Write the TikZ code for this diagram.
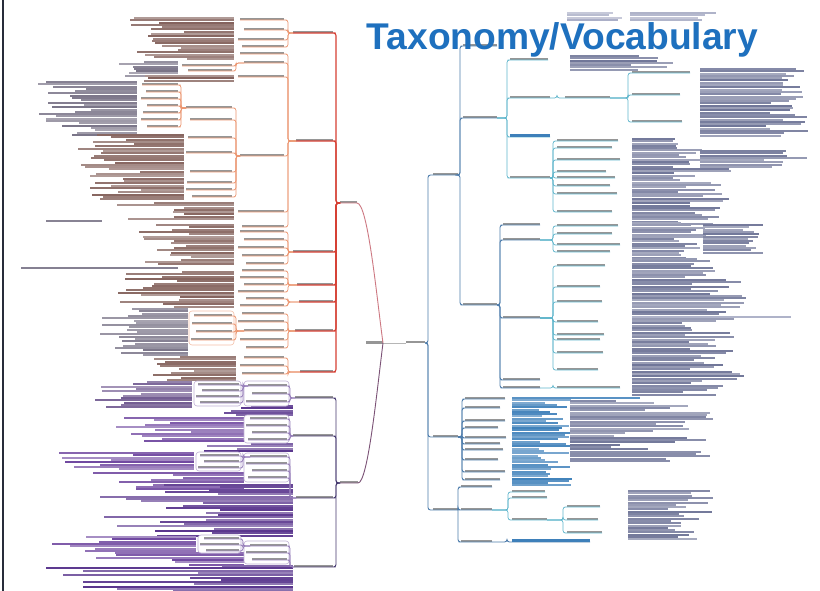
\documentclass[tikz,border=0pt]{standalone}
\usepackage{fontspec}
\newfontfamily\headfont{Liberation Sans}

\definecolor{labgray}{RGB}{150,150,150}
\definecolor{redline}{RGB}{214,64,52}
\definecolor{orgline}{RGB}{236,150,112}
\definecolor{pinkline}{RGB}{205,120,130}
\definecolor{purline}{RGB}{68,56,110}
\definecolor{lpurline}{RGB}{150,125,185}
\definecolor{blueline}{RGB}{78,125,172}
\definecolor{cyanline}{RGB}{96,182,204}
\definecolor{brownrow}{RGB}{132,98,92}
\definecolor{grayrow}{RGB}{118,112,132}
\definecolor{mixrow}{RGB}{115,92,146}
\definecolor{purprow}{RGB}{112,72,160}
\definecolor{dpurprow}{RGB}{88,52,140}
\definecolor{bluerow}{RGB}{112,118,152}
\definecolor{paleblue}{RGB}{170,174,198}
\definecolor{steelrow}{RGB}{62,128,186}
\definecolor{titleblue}{RGB}{30,112,190}
\definecolor{framecol}{RGB}{40,44,58}

% stack of text lines, right aligned at #1 (left half of the map)
\newcommand\rowsL[6]{%
  \pgfmathtruncatemacro\rnum{(#3-#2)/2.3}%
  \foreach \k in {0,...,\rnum}{%
    \pgfmathsetmacro\rlen{#4+rnd*(#5-#4)}%
    \pgfmathtruncatemacro\rsh{62+38*rnd}%
    \fill[#6!\rsh!white] ({#1-\rlen},{#2+\k*2.3}) rectangle (#1,{#2+\k*2.3+2.0});
  }}
% stack of text lines, left aligned at #1 (right half of the map)
\newcommand\rowsR[6]{%
  \pgfmathtruncatemacro\rnum{(#3-#2)/2.3}%
  \foreach \k in {0,...,\rnum}{%
    \pgfmathsetmacro\rlen{#4+rnd*(#5-#4)}%
    \pgfmathtruncatemacro\rsh{62+38*rnd}%
    \fill[#6!\rsh!white] (#1,{#2+\k*2.3}) rectangle ({#1+\rlen},{#2+\k*2.3+2.0});
  }}
% children growing to the left: parent, bracket x, line style, right end, list name/y/left end
\newcommand\Lkids[5]{%
  \foreach \nm/\yy/\xa in {#5}{%
    \pgfmathsetmacro\bw{#4-\xa}%
    \node[lbl, minimum width=\bw pt] (\nm) at (\xa,\yy) {};
    \draw[#3] (\nm.south west) -- (\nm.south east) -- ++({#2-#4},0) |- (#1.south west);
  }}
% children growing to the right: parent, bracket x, line style, left end, list name/y/right end
\newcommand\Rkids[5]{%
  \foreach \nm/\yy/\xb in {#5}{%
    \pgfmathsetmacro\bw{\xb-#4}%
    \node[lbl, minimum width=\bw pt] (\nm) at (#4,\yy) {};
    \draw[#3] (\nm.south east) -- (\nm.south west) -- ++({#2-#4},0) |- (#1.south east);
  }}

\begin{document}
\begin{tikzpicture}[x=1pt,y=-1pt,
  lbl/.style={rectangle, draw=none, fill=labgray, inner sep=0pt, outer sep=0pt,
              minimum height=1.7pt, anchor=south west},
  redc/.style={draw=redline, line width=1.1pt, rounded corners=2.5pt},
  orgc/.style={draw=orgline, line width=0.7pt, rounded corners=2.5pt},
  purc/.style={draw=purline, line width=0.9pt, rounded corners=2.5pt},
  lpurc/.style={draw=lpurline, line width=0.7pt, rounded corners=2.5pt},
  bluec/.style={draw=blueline, line width=0.9pt, rounded corners=2.5pt},
  cyanc/.style={draw=cyanline, line width=0.7pt, rounded corners=2.5pt},
  wbox/.style={draw=lpurline!60, fill=white, line width=0.6pt, rounded corners=3pt},
  obox/.style={draw=orgline!60, fill=white, line width=0.6pt, rounded corners=3pt}]
\pgfmathsetseed{20}
\fill[white] (0,0) rectangle (820,591);
\useasboundingbox (0,0) rectangle (820,591);

% ---------- leaf text, left half (brown / grey upper part)
\rowsL{234}{17}{60}{45}{105}{brownrow}
\rowsL{178}{61}{76}{30}{60}{grayrow}
\rowsL{234}{75}{80}{80}{92}{brownrow}
\rowsL{137}{81}{134}{40}{100}{grayrow}
\rowsL{184}{134}{200}{40}{108}{brownrow}
\rowsL{234}{202}{219}{40}{120}{brownrow}
\rowsL{102}{220}{221}{55}{56}{grayrow}
\rowsL{234}{224}{264}{40}{95}{brownrow}
\rowsL{178}{267}{268}{156}{157}{grayrow}
\rowsL{234}{271}{307}{50}{118}{brownrow}
\rowsL{188}{308}{354}{40}{90}{grayrow}
\rowsL{236}{356}{379}{40}{90}{brownrow}
% ---------- leaf text, left half (purple lower part)
\rowsL{192}{381}{407}{40}{100}{mixrow}
\rowsL{293}{405}{416}{40}{70}{dpurprow}
\rowsL{244}{417}{442}{50}{140}{purprow}
\rowsL{293}{443}{452}{40}{90}{dpurprow}
\rowsL{194}{452}{470}{50}{140}{purprow}
\rowsL{244}{472}{490}{60}{170}{purprow}
\rowsL{293}{484}{535}{60}{195}{dpurprow}
\rowsL{196}{536}{552}{40}{150}{purprow}
\rowsL{244}{552}{565}{50}{180}{purprow}
\rowsL{293}{565}{591}{60}{250}{dpurprow}

% ---------- leaf text, right half
\rowsR{567}{12}{20}{40}{55}{paleblue}
\rowsR{630}{12}{21}{60}{95}{paleblue}
\rowsR{570}{55}{70}{60}{120}{bluerow}
\rowsR{700}{68}{135}{60}{112}{bluerow}
\rowsR{632}{138}{225}{40}{100}{bluerow}
\rowsR{700}{150}{168}{60}{115}{bluerow}
\rowsR{632}{222}{260}{40}{80}{bluerow}
\rowsR{703}{224}{252}{40}{65}{bluerow}
\rowsR{632}{258}{395}{50}{115}{bluerow}
\rowsR{632}{316}{317}{158}{159}{paleblue}
\rowsR{512}{397}{485}{25}{60}{steelrow}
\rowsR{512}{397}{398}{128}{129}{steelrow}
\rowsR{570}{400}{462}{40}{150}{bluerow}
\rowsR{628}{490}{540}{40}{85}{bluerow}

% ---------- framed label groups
\draw[obox] (189,311) rectangle (234,345);
\draw[wbox] (194,381) rectangle (241,406);
\draw[wbox] (244,381) rectangle (289,406);
\draw[wbox] (244,415) rectangle (289,443);
\draw[wbox] (244,453) rectangle (289,482);
\draw[wbox] (196,452) rectangle (241,471);
\draw[wbox] (244,541) rectangle (289,564);
\draw[wbox] (198,535) rectangle (241,553);

% ---------- central topic and first branches
\node[lbl, minimum width=17pt] (root) at (366,343) {};
\node[lbl, minimum width=19pt] (rootR) at (406,343) {};
\node[lbl, minimum width=17pt] (T) at (340,203) {};
\node[lbl, minimum width=18pt] (P) at (340,483) {};
\draw[labgray, line width=0.6pt] (root.south west) -- (root.south east);
\draw[labgray!70, line width=0.6pt] (root.south east) -- (rootR.south west);
\draw[pinkline, line width=0.9pt] (T.south west) -- (T.south east)
  .. controls (368,203) and (377,300) .. (root.south east);
\draw[purline!60!pinkline, line width=0.9pt] (P.south west) -- (P.south east)
  .. controls (368,483) and (377,390) .. (root.south east);

% ---------- left, upper (red) branch
\Lkids{T}{336}{redc}{333}{R1/33/293,R2/141/296,R3/252/293,R4/285/297,R5/302/299,R6/331/295,R7/372/300}
\Lkids{R1}{288}{orgc}{284}{R1a/20/240,R1b/30/244,R1c/40/238,R1d/47/242}
\Lkids{R2}{288}{orgc}{284}{R2a/54/240,R2b/63/244,R2c/77/238,R2d/156/240,R2e/212/238,R2f/227/242}
\Lkids{R2b}{236}{orgc}{232}{R2b1/66/182,R2b2/71/188}
\Lkids{R2d}{236}{orgc}{232}{R2d1/108/186,R2d2/120/190,R2d3/138/188,R2d4/153/186,R2d5/172/190,R2d6/183/187,R2d7/190/186,R2d8/197/192}
\Lkids{R2d1}{181}{orgc}{178}{R2d1a/85/142,R2d1b/92/146,R2d1c/99/141,R2d1d/106/147,R2d1e/113/143,R2d1f/120/141,R2d1g/127/147}
\Lkids{R3}{288}{orgc}{284}{R3a/232/240,R3b/240/244,R3c/248/238,R3d/256/242,R3e/264/246}
\Lkids{R4}{288}{orgc}{284}{R4a/271/242,R4b/278/240,R4c/285/244,R4d/292/238}
\Lkids{R5}{288}{orgc}{284}{R5a/299/246,R5b/306/240}
\Lkids{R6}{288}{orgc}{284}{R6a/314/242,R6b/322/238,R6c/331/244,R6d/340/240,R6e/348/246}
\Lkids{R6c}{236}{orgc}{232}{R6c1/316/194,R6c2/324/192,R6c3/332/196,R6c4/340/191}
\Lkids{R7}{288}{orgc}{284}{R7a/358/244,R7b/366/240,R7c/374/242}

% ---------- left, lower (purple) branch
\Lkids{P}{336}{purc}{333}{Q1/398/295,Q2/436/293,Q3/498/296,Q4/567/294}
\Lkids{Q1}{290}{lpurc}{287}{Q1a/386/248,Q1b/394/252,Q1c/402/246}
\Lkids{Q1a}{243}{lpurc}{239}{Q1a1/385/198,Q1a2/391/202,Q1a3/397/196,Q1a4/403/200}
\Lkids{Q2}{290}{lpurc}{287}{Q2a/419/250,Q2b/426/246,Q2c/433/252,Q2d/440/248}
\Lkids{Q3}{290}{lpurc}{287}{Q3a/457/250,Q3b/464/246,Q3c/471/252,Q3d/478/248}
\Lkids{Q3a}{243}{lpurc}{239}{Q3a1/456/200,Q3a2/462/204,Q3a3/468/198}
\Lkids{Q4}{290}{lpurc}{287}{Q4a/546/250,Q4b/553/246,Q4c/560/252}
\Lkids{Q4a}{243}{lpurc}{239}{Q4a1/539/204,Q4a2/545/200,Q4a3/551/206}

% ---------- right (blue) half
\Rkids{rootR}{428}{bluec}{433}{A/175/458,B/437/458,C/510/458}
\Rkids{A}{460}{bluec}{463}{A0/46/497,A1/118/497,A2/305/497}
\Rkids{A1}{507}{cyanc}{510}{A1a/60/548,A1b/98/550,A1c/137/550,A1d/178/550}
\Rkids{A1b}{557}{cyanc}{565}{A1bx/98/610}
\Rkids{A1bx}{628}{cyanc}{632}{A1b1/73/690,A1b2/95/680,A1b3/122/682}
\Rkids{A1d}{553}{cyanc}{557}{A1d1/141/618,A1d2/148/612,A1d3/160/620,A1d4/172/606,A1d5/178/615,A1d6/186/610,A1d7/194/617,A1d8/212/612}
\Rkids{A2}{500}{bluec}{503}{A2a/225/540,A2b/240/540,A2c/318/540,A2d/380/540,A2e/388/540}
\Rkids{A2b}{553}{cyanc}{557}{A2b1/226/618,A2b2/234/612,A2b3/245/620,A2b4/252/610}
\Rkids{A2c}{553}{cyanc}{557}{A2c1/266/605,A2c2/287/600,A2c3/302/602,A2c4/322/598,A2c5/335/604,A2c6/340/600,A2c7/353/603,A2c8/370/598}
\Rkids{A2e}{553}{cyanc}{557}{A2e1/388/620}
\Rkids{B}{462}{bluec}{465}{B1/399/505,B2/408/500,B3/421/505,B4/428/498,B5/438/506,B6/444/500,B7/450/503,B8/460/498,B9/472/505,B10/480/500}
\Rkids{C}{458}{bluec}{461}{C1/487/492,C2/510/492,C3/542/492}
\Rkids{C2}{508}{cyanc}{512}{C2a/492/545,C2b/498/547,C2c/520/547}
\Rkids{C2c}{563}{cyanc}{567}{C2c1/507/600,C2c2/520/598,C2c3/533/602}
\Rkids{C3}{507}{bluec}{512}{C3a/542/590}
\node[lbl, fill=steelrow, minimum width=40pt, minimum height=2.6pt] (A1cb) at (A1c.south west) {};
\node[lbl, fill=steelrow, minimum width=78pt, minimum height=2.6pt] (C3ab) at (C3a.south west) {};

% ---------- heading
\node[anchor=base west, inner sep=0pt, text=titleblue,
      font={\headfont\bfseries\fontsize{37.2pt}{41pt}\selectfont}] (title)
  at (366.5,49.5) {Taxonomy/Vocabulary};

% ---------- page edge
\draw[framecol, line width=2.2pt] (2.6,0) -- (2.6,591);
\end{tikzpicture}
\end{document}
